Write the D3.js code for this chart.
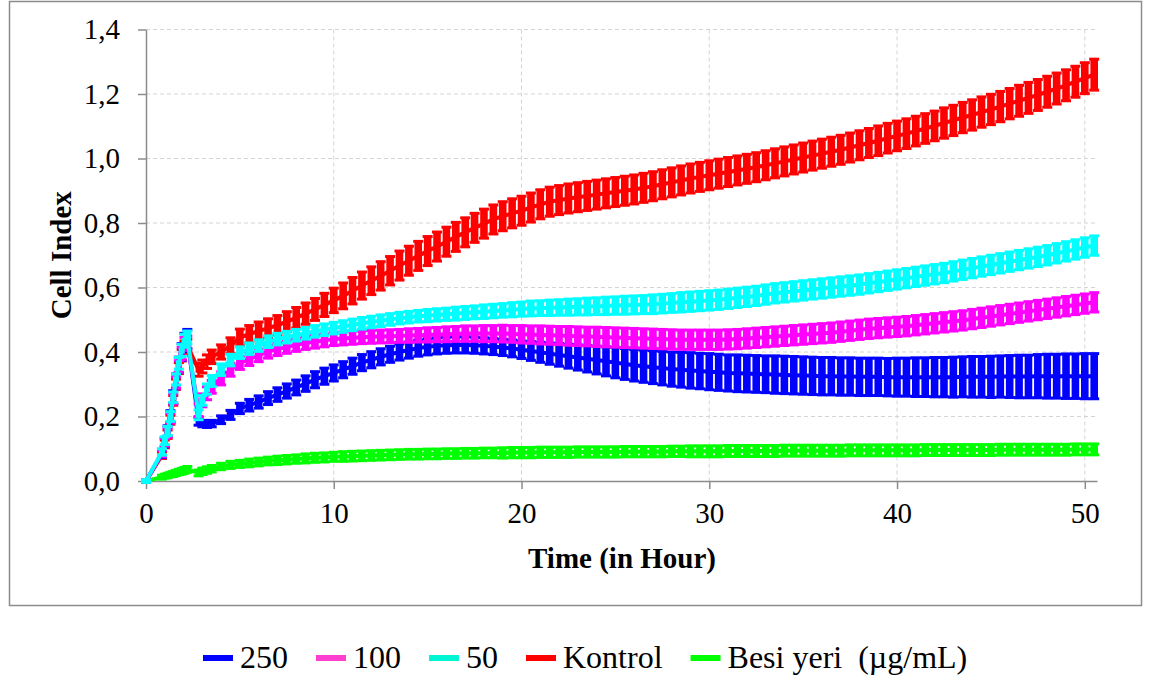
<!DOCTYPE html>
<html>
<head>
<meta charset="utf-8">
<script src="https://cdn.jsdelivr.net/npm/d3@7"></script>
<style>
  body { margin: 0; background: #fff; }
  svg text { font-family: "Liberation Serif", "Times New Roman", serif; fill: #000; }
</style>
</head>
<body>
<div id="chart"></div>
<script>
// time points (hours)
const time = [0, 0.85, 1.0, 1.15, 1.3, 1.45, 1.6, 1.75, 1.9, 2.05, 2.2, 2.8, 3.0, 3.25, 3.5,
  4, 4.5, 5, 5.5, 6, 6.5, 7, 7.5, 8, 8.5,
  9, 9.5, 10, 10.5, 11, 11.5, 12, 12.5, 13, 13.5,
  14, 14.5, 15, 15.5, 16, 16.5, 17, 17.5, 18, 18.5,
  19, 19.5, 20, 20.5, 21, 21.5, 22, 22.5, 23, 23.5,
  24, 24.5, 25, 25.5, 26, 26.5, 27, 27.5, 28, 28.5,
  29, 29.5, 30, 30.5, 31, 31.5, 32, 32.5, 33, 33.5,
  34, 34.5, 35, 35.5, 36, 36.5, 37, 37.5, 38, 38.5,
  39, 39.5, 40, 40.5, 41, 41.5, 42, 42.5, 43, 43.5,
  44, 44.5, 45, 45.5, 46, 46.5, 47, 47.5, 48, 48.5,
  49, 49.5, 50, 50.5];

// 250 µg/mL
const mean250 = [0, 0.085, 0.12, 0.155, 0.2, 0.26, 0.31, 0.36, 0.4, 0.43, 0.44, 0.185, 0.178, 0.176, 0.178,
  0.190, 0.205, 0.225, 0.235, 0.245, 0.257, 0.268, 0.279, 0.290, 0.302,
  0.314, 0.325, 0.335, 0.345, 0.356, 0.367, 0.376, 0.385, 0.393, 0.400,
  0.406, 0.412, 0.416, 0.419, 0.421, 0.422, 0.422, 0.421, 0.419, 0.417,
  0.414, 0.411, 0.407, 0.403, 0.399, 0.395, 0.391, 0.387, 0.383, 0.379,
  0.375, 0.371, 0.367, 0.363, 0.359, 0.356, 0.353, 0.350, 0.347, 0.345,
  0.343, 0.341, 0.339, 0.337, 0.335, 0.334, 0.333, 0.332, 0.331, 0.330,
  0.329, 0.328, 0.327, 0.326, 0.325, 0.325, 0.324, 0.324, 0.323, 0.323,
  0.323, 0.322, 0.322, 0.322, 0.322, 0.322, 0.322, 0.322, 0.322, 0.323,
  0.323, 0.323, 0.323, 0.324, 0.324, 0.324, 0.324, 0.325, 0.325, 0.325,
  0.325, 0.325, 0.325, 0.325];
const sd250 = [0.004, 0.012, 0.014, 0.016, 0.018, 0.02, 0.022, 0.024, 0.026, 0.028, 0.03, 0.012, 0.01, 0.01, 0.01,
  0.012, 0.014, 0.016, 0.018, 0.019, 0.020, 0.021, 0.022, 0.023, 0.024,
  0.025, 0.025, 0.025, 0.025, 0.025, 0.025, 0.025, 0.025, 0.025, 0.025,
  0.025, 0.025, 0.025, 0.025, 0.025, 0.025, 0.025, 0.025, 0.025, 0.025,
  0.025, 0.026, 0.027, 0.029, 0.031, 0.033, 0.035, 0.037, 0.039, 0.041,
  0.043, 0.045, 0.047, 0.048, 0.049, 0.050, 0.051, 0.052, 0.053, 0.054,
  0.055, 0.055, 0.056, 0.056, 0.056, 0.057, 0.057, 0.057, 0.057, 0.058,
  0.058, 0.058, 0.058, 0.058, 0.058, 0.058, 0.058, 0.058, 0.058, 0.058,
  0.058, 0.058, 0.059, 0.059, 0.060, 0.060, 0.061, 0.061, 0.062, 0.062,
  0.063, 0.063, 0.064, 0.064, 0.065, 0.066, 0.066, 0.067, 0.068, 0.068,
  0.069, 0.069, 0.070, 0.070];

// 100 µg/mL
const mean100 = [0, 0.085, 0.12, 0.15, 0.195, 0.255, 0.305, 0.355, 0.395, 0.425, 0.43, 0.22, 0.25, 0.272, 0.292,
  0.318, 0.345, 0.366, 0.378, 0.390, 0.401, 0.409, 0.416, 0.422, 0.428,
  0.432, 0.436, 0.440, 0.442, 0.444, 0.446, 0.447, 0.448, 0.449, 0.450,
  0.451, 0.452, 0.453, 0.454, 0.455, 0.456, 0.457, 0.457, 0.457, 0.457,
  0.457, 0.456, 0.455, 0.454, 0.453, 0.452, 0.451, 0.450, 0.449, 0.448,
  0.447, 0.446, 0.445, 0.444, 0.443, 0.442, 0.441, 0.440, 0.439, 0.438,
  0.438, 0.438, 0.438, 0.438, 0.439, 0.440, 0.442, 0.444, 0.446, 0.448,
  0.450, 0.452, 0.454, 0.456, 0.458, 0.460, 0.463, 0.466, 0.469, 0.472,
  0.474, 0.476, 0.478, 0.480, 0.483, 0.486, 0.489, 0.492, 0.495, 0.498,
  0.502, 0.506, 0.510, 0.514, 0.518, 0.522, 0.526, 0.530, 0.534, 0.538,
  0.542, 0.546, 0.550, 0.554];
const sd100 = [0.004, 0.01, 0.012, 0.014, 0.015, 0.016, 0.017, 0.018, 0.019, 0.02, 0.02, 0.02, 0.02, 0.02, 0.02,
  0.02, 0.02, 0.02, 0.02, 0.02, 0.02, 0.02, 0.02, 0.02, 0.02,
  0.02, 0.02, 0.02, 0.02, 0.02, 0.02, 0.02, 0.02, 0.02, 0.02,
  0.021, 0.021, 0.022, 0.022, 0.023, 0.023, 0.024, 0.024, 0.025, 0.025,
  0.026, 0.026, 0.027, 0.027, 0.028, 0.028, 0.028, 0.029, 0.029, 0.029,
  0.03, 0.03, 0.03, 0.03, 0.03, 0.03, 0.03, 0.03, 0.03, 0.03,
  0.03, 0.03, 0.03, 0.03, 0.03, 0.03, 0.03, 0.03, 0.03, 0.03,
  0.03, 0.03, 0.03, 0.03, 0.03, 0.03, 0.03, 0.03, 0.03, 0.03,
  0.03, 0.03, 0.03, 0.03, 0.03, 0.03, 0.03, 0.03, 0.03, 0.03,
  0.03, 0.03, 0.03, 0.03, 0.03, 0.03, 0.03, 0.03, 0.03, 0.03,
  0.03, 0.03, 0.03, 0.03];

// 50 µg/mL
const mean50 = [0, 0.09, 0.125, 0.155, 0.2, 0.26, 0.315, 0.365, 0.405, 0.435, 0.445, 0.205, 0.25, 0.285, 0.31,
  0.345, 0.375, 0.398, 0.410, 0.420, 0.432, 0.440, 0.446, 0.452, 0.458,
  0.464, 0.469, 0.474, 0.479, 0.484, 0.489, 0.493, 0.497, 0.501, 0.505,
  0.508, 0.511, 0.513, 0.515, 0.517, 0.519, 0.521, 0.523, 0.525, 0.527,
  0.529, 0.531, 0.533, 0.535, 0.536, 0.537, 0.538, 0.539, 0.540, 0.541,
  0.542, 0.543, 0.544, 0.545, 0.546, 0.547, 0.548, 0.550, 0.552, 0.554,
  0.556, 0.558, 0.560, 0.562, 0.565, 0.568, 0.571, 0.574, 0.578, 0.582,
  0.585, 0.588, 0.591, 0.594, 0.597, 0.600, 0.603, 0.606, 0.609, 0.613,
  0.617, 0.621, 0.625, 0.629, 0.633, 0.637, 0.641, 0.645, 0.650, 0.655,
  0.660, 0.665, 0.670, 0.675, 0.680, 0.685, 0.690, 0.695, 0.700, 0.706,
  0.712, 0.718, 0.724, 0.730];
const sd50 = [0.004, 0.01, 0.012, 0.014, 0.015, 0.016, 0.017, 0.018, 0.019, 0.02, 0.02, 0.015, 0.015, 0.016, 0.017,
  0.018, 0.018, 0.018, 0.018, 0.018, 0.018, 0.018, 0.018, 0.018, 0.018,
  0.018, 0.018, 0.018, 0.018, 0.018, 0.018, 0.018, 0.018, 0.018, 0.018,
  0.018, 0.018, 0.019, 0.019, 0.019, 0.02, 0.02, 0.02, 0.021, 0.021,
  0.021, 0.022, 0.022, 0.023, 0.023, 0.024, 0.024, 0.025, 0.025, 0.026,
  0.026, 0.027, 0.027, 0.028, 0.028, 0.028, 0.029, 0.029, 0.029, 0.03,
  0.03, 0.03, 0.03, 0.03, 0.03, 0.03, 0.03, 0.03, 0.03, 0.03,
  0.03, 0.03, 0.03, 0.03, 0.03, 0.03, 0.03, 0.03, 0.03, 0.03,
  0.03, 0.03, 0.03, 0.03, 0.03, 0.03, 0.03, 0.03, 0.03, 0.03,
  0.03, 0.03, 0.03, 0.03, 0.03, 0.03, 0.03, 0.03, 0.03, 0.03,
  0.03, 0.03, 0.03, 0.03];

// Kontrol
const meanKontrol = [0, 0.08, 0.115, 0.145, 0.19, 0.25, 0.3, 0.35, 0.39, 0.415, 0.42, 0.345, 0.355, 0.37, 0.385,
  0.400, 0.420, 0.445, 0.455, 0.465, 0.474, 0.483, 0.494, 0.506, 0.519,
  0.532, 0.546, 0.560, 0.574, 0.590, 0.606, 0.621, 0.636, 0.652, 0.668,
  0.683, 0.698, 0.713, 0.727, 0.742, 0.757, 0.771, 0.785, 0.798, 0.811,
  0.821, 0.830, 0.838, 0.848, 0.858, 0.866, 0.871, 0.876, 0.880, 0.884,
  0.888, 0.892, 0.896, 0.900, 0.904, 0.909, 0.914, 0.920, 0.926, 0.932,
  0.938, 0.943, 0.948, 0.953, 0.958, 0.963, 0.968, 0.973, 0.979, 0.985,
  0.991, 0.997, 1.003, 1.009, 1.015, 1.021, 1.027, 1.034, 1.041, 1.048,
  1.055, 1.063, 1.070, 1.077, 1.085, 1.093, 1.101, 1.110, 1.118, 1.127,
  1.135, 1.144, 1.152, 1.161, 1.170, 1.179, 1.188, 1.197, 1.207, 1.217,
  1.227, 1.238, 1.249, 1.260];
const sdKontrol = [0.004, 0.01, 0.012, 0.013, 0.014, 0.015, 0.016, 0.017, 0.018, 0.019, 0.02, 0.02, 0.02, 0.021, 0.021,
  0.022, 0.024, 0.026, 0.027, 0.028, 0.029, 0.030, 0.031, 0.032, 0.033,
  0.034, 0.036, 0.038, 0.040, 0.041, 0.042, 0.043, 0.044, 0.044, 0.045,
  0.045, 0.045, 0.045, 0.045, 0.045, 0.045, 0.045, 0.045, 0.045, 0.045,
  0.045, 0.045, 0.045, 0.045, 0.045, 0.045, 0.045, 0.045, 0.045, 0.045,
  0.045, 0.045, 0.045, 0.045, 0.045, 0.045, 0.045, 0.045, 0.045, 0.045,
  0.045, 0.045, 0.045, 0.045, 0.045, 0.045, 0.045, 0.045, 0.045, 0.045,
  0.045, 0.045, 0.045, 0.045, 0.045, 0.045, 0.045, 0.045, 0.045, 0.045,
  0.046, 0.046, 0.046, 0.046, 0.046, 0.046, 0.046, 0.047, 0.047, 0.047,
  0.047, 0.047, 0.047, 0.047, 0.047, 0.048, 0.048, 0.048, 0.048, 0.048,
  0.048, 0.048, 0.048, 0.048];

// Besi yeri
const meanBesi = [0, 0.012, 0.015, 0.017, 0.02, 0.022, 0.025, 0.028, 0.03, 0.033, 0.036, 0.025, 0.03, 0.034, 0.038,
  0.045, 0.050, 0.053, 0.056, 0.059, 0.062, 0.064, 0.066, 0.068, 0.070,
  0.072, 0.073, 0.075, 0.076, 0.077, 0.078, 0.079, 0.080, 0.081, 0.082,
  0.083, 0.083, 0.084, 0.084, 0.085, 0.085, 0.086, 0.086, 0.087, 0.087,
  0.087, 0.088, 0.088, 0.088, 0.089, 0.089, 0.089, 0.089, 0.090, 0.090,
  0.090, 0.090, 0.090, 0.091, 0.091, 0.091, 0.091, 0.091, 0.092, 0.092,
  0.092, 0.092, 0.092, 0.092, 0.093, 0.093, 0.093, 0.093, 0.093, 0.093,
  0.094, 0.094, 0.094, 0.094, 0.094, 0.094, 0.094, 0.095, 0.095, 0.095,
  0.095, 0.095, 0.095, 0.095, 0.095, 0.096, 0.096, 0.096, 0.096, 0.096,
  0.096, 0.096, 0.096, 0.097, 0.097, 0.097, 0.097, 0.097, 0.097, 0.097,
  0.097, 0.098, 0.098, 0.098];
const sdBesi = [0.002, 0.006, 0.006, 0.007, 0.007, 0.008, 0.008, 0.008, 0.009, 0.009, 0.009, 0.009, 0.01, 0.01, 0.01,
  0.01, 0.011, 0.011, 0.012, 0.012, 0.012, 0.013, 0.013, 0.013, 0.014,
  0.014, 0.014, 0.014, 0.015, 0.015, 0.015, 0.015, 0.015, 0.015, 0.015,
  0.015, 0.015, 0.015, 0.015, 0.015, 0.015, 0.015, 0.015, 0.015, 0.015,
  0.016, 0.016, 0.016, 0.016, 0.016, 0.016, 0.016, 0.016, 0.016, 0.016,
  0.016, 0.016, 0.016, 0.016, 0.016, 0.016, 0.016, 0.016, 0.016, 0.016,
  0.017, 0.017, 0.017, 0.017, 0.017, 0.017, 0.017, 0.017, 0.017, 0.017,
  0.017, 0.017, 0.017, 0.017, 0.017, 0.017, 0.017, 0.017, 0.017, 0.017,
  0.017, 0.017, 0.017, 0.017, 0.017, 0.017, 0.017, 0.017, 0.017, 0.017,
  0.017, 0.017, 0.017, 0.017, 0.017, 0.017, 0.017, 0.017, 0.017, 0.017,
  0.017, 0.017, 0.017, 0.017];

const yTicks = [0, 0.2, 0.4, 0.6, 0.8, 1.0, 1.2, 1.4];
const xTicks = [0, 10, 20, 30, 40, 50];
const legendNames = ["250", "100", "50", "Kontrol", "Besi yeri  (\u00b5g/mL)"];

const W = 1153, H = 684;
const margin = { top: 29.5, right: 56, bottom: 203, left: 146 };
const width = W - margin.left - margin.right;
const height = H - margin.top - margin.bottom;
const serif = "'Liberation Serif', 'Times New Roman', serif";

const svg = d3.select("#chart").append("svg")
  .attr("width", W).attr("height", H)
  .style("background-color", "white");

// outer frame
svg.append("rect")
  .attr("x", 9.5).attr("y", 1.5)
  .attr("width", 1132).attr("height", 604)
  .attr("fill", "none").attr("stroke", "#8c8c8c").attr("stroke-width", 1.5);

const g = svg.append("g").attr("transform", "translate(" + margin.left + "," + margin.top + ")");

const x = d3.scaleLinear().domain([0, 50.65]).range([0, width]);
const y = d3.scaleLinear().domain([0, 1.4]).range([height, 0]);

// grid
g.append("g").selectAll("line").data(yTicks.slice(1)).join("line")
  .attr("x1", 0).attr("x2", width)
  .attr("y1", d => y(d)).attr("y2", d => y(d))
  .attr("stroke", "#d4d4d4").attr("stroke-dasharray", "4,3");
g.append("g").selectAll("line").data(xTicks.slice(1)).join("line")
  .attr("x1", d => x(d)).attr("x2", d => x(d))
  .attr("y1", 0).attr("y2", height)
  .attr("stroke", "#d4d4d4").attr("stroke-dasharray", "4,3");

// axes
const fmt = d => d3.format(".1f")(d).replace(".", ",");
const yAxis = g.append("g")
  .call(d3.axisLeft(y).tickValues(yTicks).tickFormat(fmt).tickSize(8).tickSizeOuter(0).tickPadding(18));
const xAxis = g.append("g")
  .attr("transform", "translate(0," + height + ")")
  .call(d3.axisBottom(x).tickValues(xTicks).tickSize(8).tickSizeOuter(0).tickPadding(13));
[xAxis, yAxis].forEach(a => {
  a.attr("font-family", serif).attr("font-size", 29);
  a.select(".domain").attr("stroke", "#8c8c8c").attr("stroke-width", 1.5);
  a.selectAll(".tick line").attr("stroke", "#8c8c8c").attr("stroke-width", 1.5);
  a.selectAll("text").attr("font-family", serif).attr("font-size", 29).attr("fill", "#000");
});

// axis titles
svg.append("text")
  .attr("transform", "translate(71," + (margin.top + height / 2) + ") rotate(-90)")
  .attr("text-anchor", "middle")
  .attr("font-family", serif).attr("font-size", 29).attr("font-weight", "bold")
  .text("Cell Index");
svg.append("text")
  .attr("x", 622).attr("y", 568)
  .attr("text-anchor", "middle")
  .attr("font-family", serif).attr("font-size", 29).attr("font-weight", "bold")
  .text("Time (in Hour)");

// series, drawn bottom to top
const series = [
  { name: "Kontrol", color: "#ff0000", mean: meanKontrol, sd: sdKontrol },
  { name: "Besi yeri", color: "#00ff00", mean: meanBesi, sd: sdBesi },
  { name: "250", color: "#0000ff", mean: mean250, sd: sd250 },
  { name: "100", color: "#ff00ff", mean: mean100, sd: sd100 },
  { name: "50", color: "#00ffff", mean: mean50, sd: sd50 },
];

const line = d3.line().x(d => x(d.t)).y(d => y(d.v));

series.forEach(s => {
  const pts = time.map((t, i) => ({ t: t, v: s.mean[i], e: s.sd[i] }));
  const sg = g.append("g");

  // error bars: bar width follows point spacing
  pts.forEach((p, i) => {
    const nb = i < pts.length - 1 ? x(pts[i + 1].t) - x(p.t) : x(p.t) - x(pts[i - 1].t);
    const w = Math.max(1.5, Math.min(7.6, nb - 1.8));
    const cx = x(p.t);
    sg.append("line")
      .attr("x1", cx).attr("x2", cx)
      .attr("y1", y(p.v - p.e)).attr("y2", y(p.v + p.e))
      .attr("stroke", s.color).attr("stroke-width", w);
    [p.v - p.e, p.v + p.e].forEach(v => {
      sg.append("line")
        .attr("x1", cx - 5).attr("x2", cx + 5)
        .attr("y1", y(v)).attr("y2", y(v))
        .attr("stroke", s.color).attr("stroke-width", 3);
    });
  });

  sg.append("path").datum(pts)
    .attr("d", line)
    .attr("fill", "none").attr("stroke", s.color).attr("stroke-width", 4);

  sg.selectAll("rect").data(pts).join("rect")
    .attr("x", d => x(d.t) - 3).attr("y", d => y(d.v) - 3)
    .attr("width", 6).attr("height", 6)
    .attr("fill", s.color);
});

// legend
const legendColors = ["#0000ff", "#ff3fcf", "#00f5d4", "#ff0000", "#00ff00"];
const lg = svg.append("g").attr("transform", "translate(203,658)");
let lx = 0;
legendNames.forEach((n, i) => {
  lg.append("rect").attr("x", lx).attr("y", -3).attr("width", 30).attr("height", 6).attr("fill", legendColors[i]);
  const t = lg.append("text").attr("x", lx + 37).attr("y", 10)
    .attr("font-family", serif).attr("font-size", 32)
    .attr("xml:space", "preserve")
    .text(n);
  lx += 37 + t.node().getComputedTextLength() + 28;
});
</script>
</body>
</html>
